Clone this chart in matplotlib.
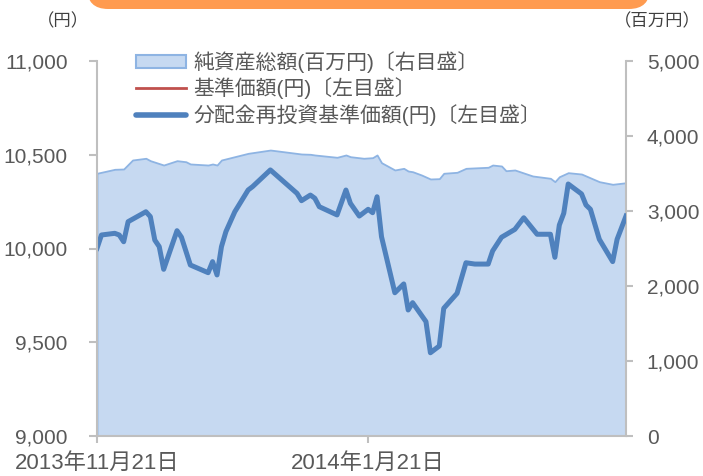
import numpy as np
import pandas as pd
import matplotlib
matplotlib.use('Agg')
import matplotlib.pyplot as plt
from matplotlib.patches import FancyBboxPatch, Patch
from matplotlib.lines import Line2D

plt.rcParams['font.family'] = ['Liberation Sans', 'Noto Sans CJK JP']

start = pd.Timestamp('2013-11-21')

# 分配金再投資基準価額 (円) - days after start
nav_days = [0, 1, 4, 5, 6, 7, 11, 12, 13, 14, 15, 18, 19, 21, 25, 26, 27, 28, 29, 31,
            34, 35, 39, 45, 46, 48, 49, 50, 54, 56, 57, 59, 61, 62, 63, 64, 67, 69, 70, 71,
            74, 75, 77, 78, 81, 83, 85, 88, 89, 91, 94, 96, 99, 102, 103, 104, 105, 106, 109, 110,
            111, 113, 116, 117, 119]
nav_reinv = [10001, 10072, 10081, 10072, 10036, 10143, 10196, 10170, 10045, 10010,
             9889, 10095, 10060, 9912, 9871, 9930, 9859, 10010, 10090, 10196,
             10312, 10330, 10419, 10294, 10255, 10285, 10268, 10223, 10179, 10312,
             10241, 10173, 10209, 10191, 10276, 10063, 9764, 9811, 9672, 9711,
             9610, 9444, 9480, 9681, 9761, 9924, 9917, 9917, 9987, 10060,
             10102, 10164, 10076, 10076, 9953, 10125, 10188, 10344, 10291, 10232,
             10209, 10049, 9930, 10049, 10173]
# 基準価額 = same as reinvested (no distribution in period)
nav_base = nav_reinv

# 純資産総額 (百万円)
aum_days = [0, 4, 6, 8, 11, 12, 15, 18, 20, 21, 25, 26, 27, 28, 34, 39, 46, 48, 49, 54,
            56, 57, 60, 62, 63, 64, 67, 69, 70, 71, 73, 75, 77, 78, 81, 83, 88, 89, 91, 92,
            94, 98, 102, 103, 104, 106, 109, 113, 116, 119]
aum = [3503, 3556, 3560, 3680, 3703, 3671, 3613, 3671, 3657, 3627,
       3613, 3627, 3613, 3680, 3769, 3813, 3760, 3756, 3747, 3716,
       3747, 3724, 3703, 3711, 3747, 3644, 3547, 3569, 3533, 3524,
       3480, 3427, 3431, 3503, 3516, 3569, 3583, 3613, 3600, 3537,
       3547, 3467, 3436, 3391, 3457, 3511, 3493, 3391, 3356, 3377]

xticks = ['2013-11-21', '2014-01-21']
xticklabels = ['2013年11月21日', '2014年1月21日']

labels = ['純資産総額(百万円)〔右目盛〕', '基準価額(円)〔左目盛〕', '分配金再投資基準価額(円)〔左目盛〕']

nav_dates = start + pd.to_timedelta(nav_days, unit='D')
aum_dates = start + pd.to_timedelta(aum_days, unit='D')

fill_c = '#C6D9F1'
edge_c = '#8EB4E3'
blue = '#4F81BD'
red = '#C0504D'
grey_txt = '#595959'
axis_c = '#BFBFBF'

fig = plt.figure(figsize=(7.03, 4.76), dpi=100)
ax = fig.add_axes([97/703, 40/476, 529/703, 375/476])
ax2 = ax.twinx()

ax2.fill_between(aum_dates, 0, aum, facecolor=fill_c, edgecolor=edge_c, linewidth=1.3)
ax2.set_ylim(0, 5000)
ax2.set_yticks([0, 1000, 2000, 3000, 4000, 5000])
ax2.set_yticklabels(['{:,}'.format(v) for v in [0, 1000, 2000, 3000, 4000, 5000]])

ax.set_zorder(ax2.get_zorder() + 1)
ax.patch.set_visible(False)
ax.plot(nav_dates, nav_base, color=red, linewidth=2)
ax.plot(nav_dates, nav_reinv, color=blue, linewidth=3.6, solid_joinstyle='round')
ax.set_ylim(9000, 11000)
ax.set_yticks([9000, 9500, 10000, 10500, 11000])
ax.set_yticklabels(['{:,}'.format(v) for v in [9000, 9500, 10000, 10500, 11000]])
ax.set_xlim(start, nav_dates[-1])
ax.set_xticks(pd.to_datetime(xticks))
ax.set_xticklabels(xticklabels)

for a in (ax, ax2):
    for s in a.spines.values():
        s.set_visible(False)
ax.spines['left'].set_visible(True)
ax.spines['bottom'].set_visible(True)
ax2.spines['right'].set_visible(True)
for s in (ax.spines['left'], ax.spines['bottom'], ax2.spines['right']):
    s.set_color(axis_c)
    s.set_linewidth(1.5)

ax.tick_params(axis='y', length=6, width=1.5, color=axis_c, pad=15, labelsize=15, labelcolor=grey_txt)
ax.tick_params(axis='x', length=5, width=1.5, color=axis_c, pad=7, labelsize=16, labelcolor=grey_txt)
ax2.tick_params(axis='y', length=5, width=1.5, color=axis_c, pad=10, labelsize=15, labelcolor=grey_txt)

# unit labels
fig.text(63/703, 1 - 21/476, '（円）', ha='center', va='center', fontsize=12.5, color='#404040')
fig.text(701/703, 1 - 21/476, '（百万円）', ha='right', va='center', fontsize=12.5, color='#404040')

# orange banner at the top
banner = FancyBboxPatch((87/703, 1 - 9/476), (650 - 87)/703, 40/476,
                        boxstyle='round,pad=0,rounding_size=0.03', transform=fig.transFigure,
                        facecolor='#FF9B50', edgecolor='none', mutation_aspect=703/476)
fig.patches.append(banner)

handles = [Patch(facecolor=fill_c, edgecolor=edge_c, linewidth=1.5),
           Line2D([], [], color=red, linewidth=2),
           Line2D([], [], color=blue, linewidth=4, solid_capstyle='round')]
fig.legend(handles, labels, loc='upper left', bbox_to_anchor=(136/703, 1 - 51/476),
           frameon=False, fontsize=15, handlelength=2.4, handleheight=0.6,
           handletextpad=0.35, labelspacing=0.22, borderpad=0, borderaxespad=0,
           labelcolor=grey_txt)

fig.savefig('out.png', dpi=100)
